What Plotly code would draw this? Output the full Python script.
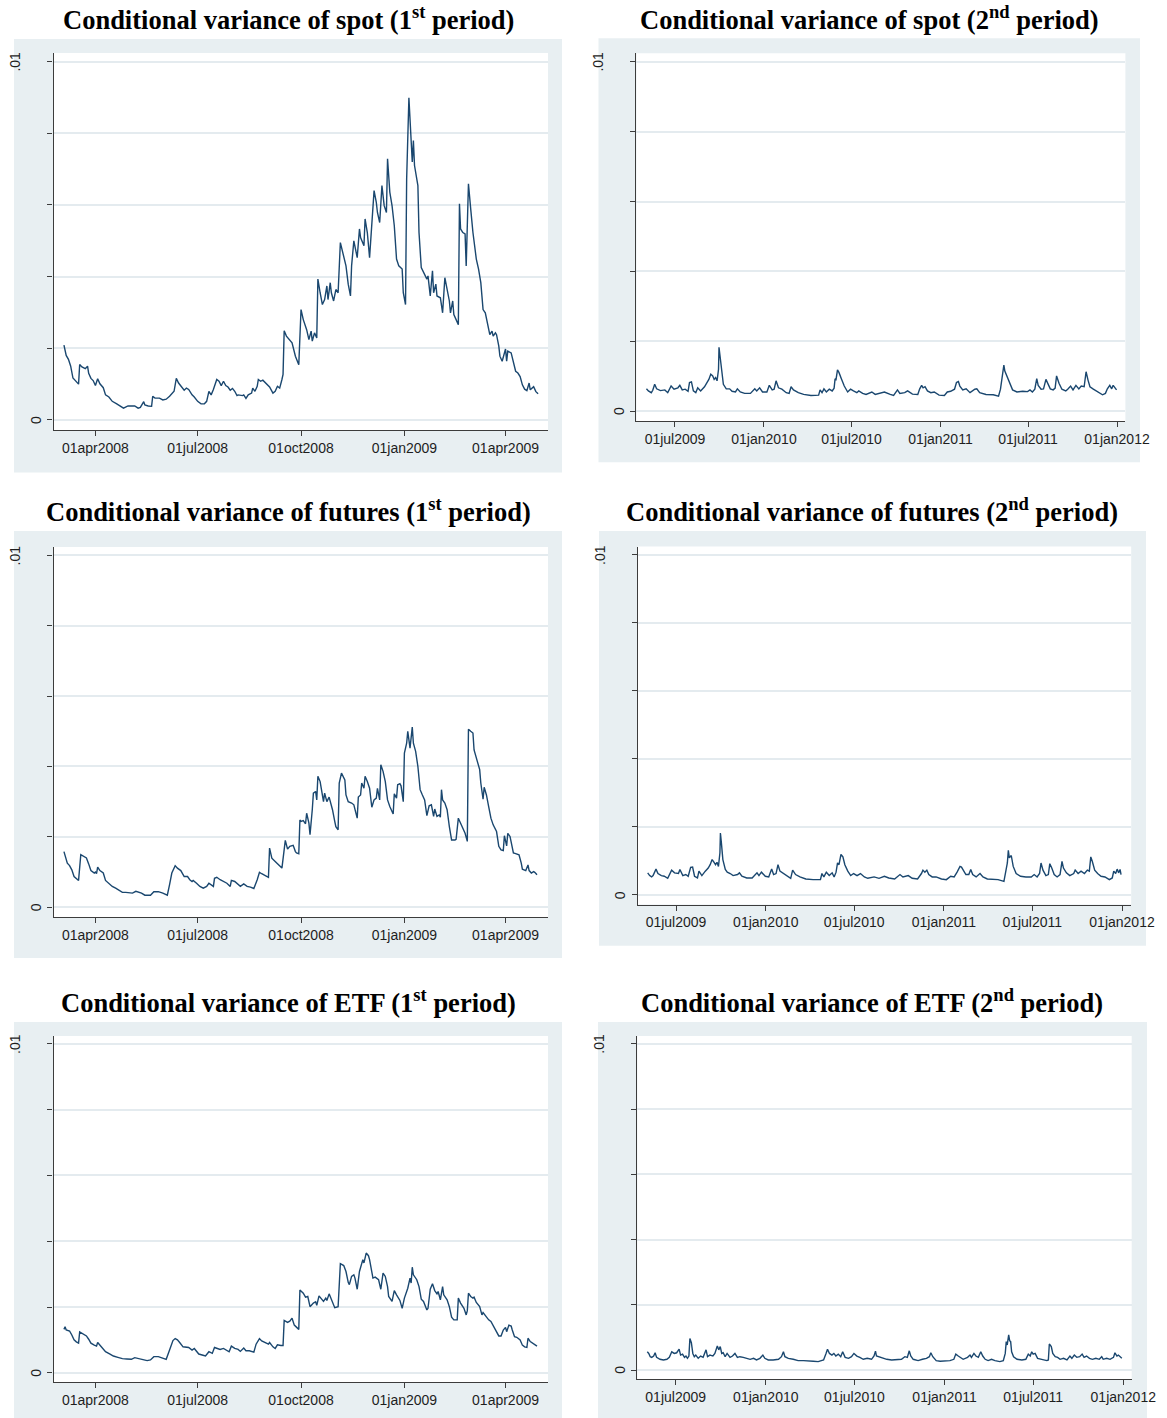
import pandas as pd
import plotly.graph_objects as go

W, H = 1167, 1418

# ---------------- data (conditional variance, in units of 1e-3) ----------------
base1 = "2008-04-01"   # day offsets of the 1st period are relative to this date
base2 = "2009-07-01"   # day offsets of the 2nd period are relative to this date

spot1_day = [-28,-26,-24,-22,-20,-17,-15,-14,-12,-9,
             -7,-6,-4,-2,0,2,4,7,9,12,
             15,19,22,25,29,32,35,38,40,43,
             44,47,50,51,53,57,60,63,66,70,
             72,74,76,79,81,83,86,88,91,94,
             97,99,101,103,105,108,110,112,114,116,
             118,120,122,124,126,127,131,132,134,136,
             139,140,142,144,145,147,149,152,155,158,
             160,162,164,166,167,168,
             170,175,178,181,183,185,188,190,192,193,
             195,197,198,200,202,204,206,207,209,210,
             212,214,216,218,220,223,225,227,228,230,
             233,235,236,239,240,242,244,246,248,250,
             251,253,255,257,259,260,262,264,266,268,
             270,273,274,276,277,279,281,282,283,284,
             287,288,290,293,295,296,298,300,301,303,
             304,307,309,311,313,315,316,318,319,321,
             323,324,325,327,329,330,332,334,336,339,
             341,343,345,347,349,351,353,354,356,357,
             359,360,362,365,366,367,370,372,374,376,
             378,380,382,384,386,387,390,392,394]
spot1_var = [2.09,1.80,1.69,1.50,1.17,1.05,1.00,1.55,1.48,1.43,
             1.50,1.30,1.16,1.10,0.96,1.15,1.01,0.90,0.70,0.64,
             0.52,0.45,0.38,0.33,0.39,0.38,0.39,0.33,0.35,0.51,
             0.42,0.39,0.38,0.66,0.61,0.61,0.56,0.58,0.66,0.80,
             1.16,1.03,0.96,0.83,0.89,0.85,0.70,0.64,0.52,0.45,
             0.45,0.52,0.80,0.70,0.85,1.13,1.08,0.96,1.08,0.96,
             0.92,0.83,0.88,0.80,0.68,0.70,0.68,0.70,0.60,0.70,
             0.75,0.89,0.80,0.94,1.13,1.08,1.11,1.01,0.92,0.75,
             0.80,0.94,0.89,1.13,1.27,2.49,
             2.34,2.15,1.78,1.54,3.08,2.80,2.52,2.24,2.48,2.20,
             2.43,2.29,3.93,3.55,3.22,3.36,3.74,3.36,3.83,3.55,
             3.32,3.64,3.55,4.95,4.67,4.30,3.79,3.46,4.30,5.00,
             4.53,5.33,5.09,4.86,5.61,5.23,4.53,5.37,6.40,6.07,
             5.79,5.51,6.54,5.98,5.79,7.29,6.36,5.98,5.42,4.49,
             4.30,4.21,3.55,3.22,6.73,8.99,7.94,7.20,7.80,7.10,
             6.54,5.23,4.25,4.07,3.93,4.02,3.46,4.16,3.55,3.79,
             3.46,3.41,2.99,3.97,3.64,3.32,2.99,3.32,2.94,2.80,
             2.66,6.03,5.33,5.23,5.19,4.30,6.59,5.89,5.23,4.49,
             4.21,3.83,3.08,2.99,2.71,2.38,2.48,2.34,2.43,2.38,
             2.06,1.78,1.64,1.98,1.64,1.92,1.87,1.59,1.36,1.31,
             1.21,0.98,0.86,0.82,1.03,0.84,0.93,0.79,0.73]

fut1_day = [-28,-27,-25,-23,-21,-19,-16,-15,-13,-11,
            -8,-6,-4,-1,0,1,2,4,7,9,
            12,15,18,21,24,27,30,33,36,39,
            41,44,49,52,56,60,64,66,68,71,
            73,76,79,82,84,86,87,90,93,96,
            99,101,103,105,106,108,111,114,117,120,
            121,124,127,129,132,135,138,141,144,146,
            148,151,154,155,157,160,163,166,169,171,
            173,176,178,179,181,182,183,185,187,188,
            190,191,193,194,196,197,198,200,201,203,
            204,206,208,211,213,214,216,217,219,222,
            223,225,228,230,233,234,236,237,239,240,
            242,244,246,248,250,251,253,254,256,258,
            260,262,265,266,268,269,271,272,274,275,
            277,278,280,282,283,285,287,289,291,293,
            295,297,299,301,302,304,306,307,308,309,
            311,313,315,317,320,321,323,325,327,329,
            331,332,334,336,337,340,342,343,345,346,
            348,350,352,354,357,359,361,363,364,366,
            367,369,370,372,374,377,379,380,383,385,
            386,388,390,391,393]
fut1_var = [1.58,1.49,1.25,1.18,1.06,0.87,0.80,0.76,1.49,1.46,
            1.40,1.23,1.04,0.97,1.00,0.95,1.14,1.04,0.97,0.76,
            0.66,0.59,0.54,0.47,0.42,0.42,0.40,0.40,0.45,0.42,
            0.40,0.34,0.34,0.44,0.44,0.40,0.34,0.64,0.97,1.18,
            1.11,1.04,0.87,0.87,0.78,0.73,0.76,0.68,0.59,0.54,
            0.59,0.68,0.64,0.59,0.82,0.85,0.78,0.73,0.68,0.59,
            0.76,0.73,0.66,0.59,0.66,0.59,0.57,0.53,0.78,0.99,
            0.95,0.89,0.85,1.68,1.39,1.30,1.20,1.11,1.90,1.65,
            1.73,1.76,1.58,1.54,1.52,2.48,2.44,2.46,2.37,2.67,
            2.39,2.06,2.77,3.24,3.29,3.05,3.72,3.57,3.38,3.00,
            3.24,3.00,3.13,2.77,2.44,2.29,2.20,3.53,3.81,3.62,
            3.19,3.00,2.96,2.91,2.53,3.13,3.19,3.53,3.38,3.72,
            3.57,3.38,2.84,3.05,3.10,3.38,3.05,4.05,3.86,3.57,
            3.05,2.86,2.65,3.22,3.10,3.48,3.51,3.45,3.00,4.38,
            4.66,5.00,4.52,5.12,4.66,4.43,4.00,3.34,3.19,3.05,
            2.60,2.88,2.91,2.58,2.79,2.58,2.62,2.56,3.34,3.05,
            2.96,2.77,2.29,1.91,1.91,1.93,2.53,2.39,2.25,2.10,
            1.87,5.06,5.00,4.95,4.47,4.14,3.91,3.53,3.07,3.41,
            3.19,2.86,2.53,2.34,2.15,1.73,1.63,1.61,2.03,1.74,
            2.10,2.01,1.82,1.54,1.52,1.49,1.25,1.08,1.04,1.20,
            1.04,0.97,1.01,0.99,0.92]

etf1_day = [-28,-27,-26,-23,-21,-19,-17,-15,-14,-11,
            -8,-6,-4,-1,1,2,4,6,9,13,
            16,20,24,28,32,35,39,43,46,49,
            52,56,59,63,66,69,71,73,75,78,
            83,86,88,90,92,95,98,101,104,106,
            108,111,114,117,119,121,124,127,129,132,
            134,137,141,143,146,148,151,154,155,158,
            160,162,165,167,168,171,173,175,177,179,
            181,182,185,187,189,191,194,196,197,199,
            201,203,205,206,208,210,212,213,216,218,
            221,223,225,226,228,230,231,233,235,236,
            238,239,241,243,244,247,249,252,254,256,
            258,260,261,264,266,268,271,273,275,278,
            280,281,282,283,286,288,290,292,295,296,
            298,300,302,304,305,307,309,310,313,315,
            317,319,322,323,325,328,330,331,332,334,
            336,337,339,342,344,345,348,350,352,354,
            357,359,361,363,365,366,368,370,371,373,
            375,378,380,382,384,385,387,389,391,393]
etf1_var = [1.32,1.40,1.30,1.27,1.15,1.00,0.94,0.90,1.24,1.18,
            1.12,1.02,0.90,0.84,0.81,0.92,0.84,0.77,0.64,0.57,
            0.51,0.47,0.43,0.42,0.41,0.46,0.42,0.39,0.37,0.39,
            0.49,0.49,0.46,0.41,0.69,0.98,1.04,1.00,0.92,0.79,
            0.77,0.69,0.74,0.64,0.57,0.54,0.51,0.64,0.59,0.77,
            0.74,0.71,0.74,0.67,0.64,0.81,0.74,0.71,0.65,0.75,
            0.67,0.67,0.63,0.87,1.04,0.97,0.92,0.87,0.92,0.79,
            0.74,0.85,0.83,0.83,1.59,1.53,1.57,1.66,1.45,1.38,
            1.32,2.52,2.42,2.30,2.32,2.01,2.12,2.16,2.05,2.34,
            2.27,2.17,2.27,2.20,2.40,2.22,2.10,1.98,2.01,3.32,
            3.26,3.08,2.75,2.68,2.93,2.98,2.88,2.54,3.08,3.18,
            3.44,3.34,3.64,3.56,3.44,2.88,2.91,2.83,2.54,3.03,
            2.93,2.62,2.32,2.17,2.50,2.37,2.20,1.96,2.27,2.57,
            2.88,2.73,3.21,2.98,2.83,2.62,2.24,2.17,1.91,1.96,
            2.54,2.71,2.50,2.40,2.47,2.22,2.62,2.37,2.22,2.01,
            1.69,1.61,1.61,2.27,2.12,1.96,1.76,1.89,2.42,2.32,
            2.27,2.30,2.14,2.01,1.76,1.83,1.69,1.61,1.56,1.42,
            1.25,1.12,1.12,1.30,1.38,1.25,1.45,1.42,1.30,1.10,
            1.08,1.00,0.84,0.79,0.77,1.05,0.95,0.90,0.87,0.81]

spot2_day = [-59,-55,-49,-46,-42,-38,-30,-21,-15,-8,
             -2,6,10,15,21,27,30,34,38,43,
             47,53,61,67,70,74,78,81,84,87,
             90,91,94,97,100,106,113,118,125,129,
             135,144,156,165,169,175,181,190,195,201,
             205,209,214,221,230,236,240,245,255,266,
             281,297,300,304,308,313,319,325,329,331,
             333,336,339,344,350,357,363,369,376,380,
             388,395,407,414,426,433,445,452,460,465,
             475,481,491,502,506,510,513,517,522,529,
             536,546,557,563,570,578,582,586,589,595,
             602,610,620,624,630,643,658,669,673,677,
             680,682,686,692,698,707,719,729,734,739,
             744,748,751,757,762,767,771,776,782,786,
             789,794,800,808,812,818,823,829,835,840,
             846,850,854,858,865,875,884,890,894,899,
             903,906,910,913]
spot2_var = [0.64,0.58,0.53,0.60,0.77,0.64,0.59,0.61,0.53,0.72,
             0.63,0.67,0.74,0.61,0.63,0.57,0.82,0.84,0.58,0.53,
             0.67,0.58,0.70,0.82,0.91,1.06,1.01,0.91,0.96,0.87,
             1.20,1.83,1.49,1.01,0.77,0.64,0.64,0.57,0.55,0.64,
             0.55,0.51,0.51,0.64,0.58,0.67,0.55,0.55,0.74,0.61,
             0.63,0.87,0.67,0.63,0.53,0.51,0.70,0.61,0.53,0.48,
             0.45,0.46,0.61,0.53,0.64,0.55,0.63,0.58,0.66,0.93,
             0.91,1.18,1.11,0.93,0.72,0.55,0.63,0.58,0.53,0.58,
             0.51,0.48,0.55,0.48,0.53,0.55,0.48,0.45,0.61,0.51,
             0.53,0.58,0.49,0.48,0.64,0.74,0.67,0.70,0.58,0.53,
             0.55,0.46,0.45,0.55,0.57,0.63,0.82,0.85,0.72,0.61,
             0.64,0.53,0.63,0.64,0.53,0.48,0.47,0.43,0.63,0.96,
             1.32,1.15,1.01,0.77,0.61,0.55,0.57,0.56,0.61,0.55,
             0.63,0.93,0.74,0.63,0.64,0.91,0.80,0.64,0.61,0.66,
             1.01,0.80,0.63,0.58,0.63,0.72,0.61,0.74,0.64,0.72,
             0.70,1.13,0.89,0.70,0.63,0.55,0.47,0.51,0.64,0.74,
             0.64,0.74,0.66,0.61]

fut2_day = [-58,-54,-50,-47,-41,-37,-30,-24,-17,-9,
            -3,5,8,14,20,25,30,34,38,44,
            47,53,60,66,70,74,77,81,84,87,
            90,91,93,96,101,105,111,117,126,130,
            135,145,156,166,170,175,183,190,196,200,
            205,209,213,220,230,235,239,245,254,266,
            281,296,299,303,308,314,320,324,328,331,
            334,338,342,346,352,358,364,371,378,386,
            393,406,416,427,436,448,459,465,476,484,
            495,503,506,510,514,518,525,533,544,554,
            563,570,576,582,585,589,594,600,604,608,
            615,623,629,638,649,660,672,676,679,681,
            683,687,691,697,706,717,728,734,740,745,
            748,752,758,763,766,770,775,781,787,791,
            794,800,807,815,818,824,830,837,843,847,
            850,853,858,864,871,879,888,894,897,901,
            904,907,910,912]
fut2_var = [0.65,0.57,0.53,0.57,0.76,0.63,0.57,0.55,0.49,0.73,
            0.65,0.63,0.75,0.57,0.60,0.55,0.81,0.82,0.55,0.50,
            0.70,0.57,0.70,0.79,0.89,1.04,0.98,0.89,0.96,0.84,
            1.24,1.82,1.53,1.04,0.75,0.67,0.63,0.57,0.60,0.65,
            0.55,0.50,0.50,0.65,0.57,0.67,0.55,0.53,0.76,0.60,
            0.63,0.89,0.70,0.63,0.53,0.49,0.73,0.60,0.53,0.47,
            0.45,0.45,0.63,0.53,0.67,0.57,0.65,0.53,0.67,0.94,
            0.89,1.19,1.12,0.89,0.70,0.57,0.63,0.57,0.63,0.53,
            0.49,0.53,0.49,0.55,0.50,0.47,0.60,0.53,0.57,0.49,
            0.47,0.63,0.73,0.67,0.73,0.60,0.53,0.53,0.47,0.45,
            0.55,0.53,0.67,0.84,0.82,0.73,0.60,0.60,0.75,0.60,
            0.53,0.63,0.53,0.47,0.47,0.45,0.40,0.76,0.94,1.31,
            1.09,1.16,0.84,0.63,0.55,0.53,0.53,0.60,0.53,0.63,
            0.94,0.73,0.57,0.60,0.92,0.79,0.60,0.53,0.60,0.99,
            0.79,0.65,0.57,0.63,0.73,0.63,0.70,0.63,0.73,0.70,
            1.12,0.99,0.73,0.63,0.55,0.53,0.45,0.50,0.70,0.63,
            0.76,0.65,0.75,0.60]

etf2_day = [-58,-55,-52,-49,-45,-42,-39,-32,-25,-18,
            -13,-8,-3,2,7,10,14,18,21,24,
            27,29,32,35,38,41,46,51,56,62,
            65,70,76,80,85,88,91,94,97,101,
            105,111,116,121,126,131,138,145,152,159,
            165,172,178,182,189,199,210,216,220,223,
            230,240,250,261,271,281,291,302,307,310,
            314,319,323,327,332,337,341,346,353,359,
            364,370,376,383,391,400,405,408,410,417,
            424,431,441,451,461,468,473,477,480,485,
            495,504,512,518,521,525,532,540,550,560,
            568,572,577,582,587,596,601,604,609,613,
            618,623,627,632,638,645,652,662,669,673,
            675,677,680,682,684,686,690,697,707,715,
            720,724,727,730,734,739,747,758,761,763,
            767,770,775,780,785,792,799,805,809,814,
            819,825,830,834,839,845,851,858,865,870,
            873,880,887,894,897,901,904,908,911]
etf2_var = [0.56,0.51,0.41,0.39,0.43,0.53,0.39,0.33,0.31,0.33,
            0.39,0.56,0.51,0.53,0.64,0.46,0.49,0.39,0.43,0.36,
            0.43,0.97,0.84,0.51,0.41,0.46,0.36,0.43,0.39,0.62,
            0.41,0.46,0.43,0.51,0.74,0.62,0.72,0.51,0.53,0.41,
            0.51,0.39,0.43,0.51,0.39,0.41,0.39,0.36,0.33,0.36,
            0.31,0.36,0.46,0.36,0.31,0.31,0.33,0.41,0.56,0.41,
            0.36,0.33,0.29,0.29,0.27,0.27,0.26,0.31,0.51,0.64,
            0.51,0.46,0.51,0.43,0.49,0.41,0.56,0.39,0.36,0.41,
            0.51,0.43,0.39,0.33,0.36,0.33,0.43,0.58,0.43,0.39,
            0.36,0.33,0.31,0.31,0.33,0.41,0.39,0.59,0.43,0.33,
            0.29,0.33,0.36,0.41,0.53,0.41,0.29,0.27,0.27,0.29,
            0.33,0.49,0.43,0.39,0.33,0.39,0.46,0.39,0.51,0.43,
            0.39,0.56,0.43,0.33,0.29,0.33,0.29,0.26,0.29,0.51,
            0.87,0.77,1.08,0.90,0.87,0.56,0.41,0.33,0.31,0.33,
            0.49,0.43,0.56,0.49,0.51,0.36,0.33,0.29,0.31,0.80,
            0.72,0.51,0.41,0.39,0.33,0.36,0.31,0.43,0.36,0.46,
            0.39,0.41,0.49,0.39,0.43,0.36,0.33,0.36,0.33,0.41,
            0.33,0.36,0.33,0.39,0.53,0.43,0.46,0.39,0.36]

ticks1 = ["2008-04-01", "2008-07-01", "2008-10-01", "2009-01-01", "2009-04-01"]
ticks1_text = ["01apr2008", "01jul2008", "01oct2008", "01jan2009", "01apr2009"]
ticks2 = ["2009-07-01", "2010-01-01", "2010-07-01", "2011-01-01", "2011-07-01", "2012-01-01"]
ticks2_text = ["01jul2009", "01jan2010", "01jul2010", "01jan2011", "01jul2011", "01jan2012"]
yticks = [0, 0.002, 0.004, 0.006, 0.008, 0.01]
ylabels = {0: "0", 0.01: ".01"}

titles = [
    "Conditional variance of spot (1<sup>st</sup> period)",
    "Conditional variance of spot (2<sup>nd</sup> period)",
    "Conditional variance of futures (1<sup>st</sup> period)",
    "Conditional variance of futures (2<sup>nd</sup> period)",
    "Conditional variance of ETF (1<sup>st</sup> period)",
    "Conditional variance of ETF (2<sup>nd</sup> period)",
]
series = [
    (base1, spot1_day, spot1_var, ticks1, ticks1_text),
    (base2, spot2_day, spot2_var, ticks2, ticks2_text),
    (base1, fut1_day, fut1_var, ticks1, ticks1_text),
    (base2, fut2_day, fut2_var, ticks2, ticks2_text),
    (base1, etf1_day, etf1_var, ticks1, ticks1_text),
    (base2, etf2_day, etf2_var, ticks2, ticks2_text),
]

# ---------------- layout geometry (pixels) ----------------
# plot box: (left, right, top, bottom); background box; title centre; x range in days from base
geom = [
    dict(plot=(53.5, 548, 53, 430), bg=(14, 562, 39, 472.5), title=(288, 18), xr=(-37.3, 402.8)),
    dict(plot=(636.4, 1125.4, 53.3, 421), bg=(598.5, 1140, 38.3, 462.3), title=(869, 18), xr=(-79.8, 931.3)),
    dict(plot=(53.5, 548, 547, 917), bg=(14, 562, 531, 958), title=(288, 510), xr=(-37.3, 402.8)),
    dict(plot=(637.8, 1131.2, 546.5, 904.5), bg=(599, 1146, 531, 945.7), title=(872, 510), xr=(-78.3, 932.8)),
    dict(plot=(53.5, 548, 1036, 1382), bg=(14, 562, 1022, 1418), title=(288, 1001), xr=(-37.3, 402.8)),
    dict(plot=(637.3, 1131.7, 1036, 1379.2), bg=(598, 1147, 1022, 1418), title=(872, 1001), xr=(-78.4, 931.2)),
]

NAVY = "#1a476f"
BG = "#e8eff2"
GRID = "#e4ebef"
AXIS = "#3c3c3c"
YR = [-0.00028, 0.01024]


def px_x(x):
    return x / W


def px_y(y):
    return 1 - y / H


fig = go.Figure()
shapes, annotations = [], []
layout = {}

for i, ((base, days, vals, tv, tt), g, title) in enumerate(zip(series, geom, titles), start=1):
    b = pd.Timestamp(base)
    x = b + pd.to_timedelta(days, unit="D")
    y = [v / 1000 for v in vals]
    xs = "x" if i == 1 else f"x{i}"
    ys = "y" if i == 1 else f"y{i}"
    fig.add_trace(go.Scatter(x=x, y=y, mode="lines", xaxis=xs, yaxis=ys,
                             line=dict(color=NAVY, width=1.4), showlegend=False,
                             hoverinfo="skip"))
    l, r, t, btm = g["plot"]
    bl, br, bt, bb = g["bg"]
    shapes.append(dict(type="rect", xref="paper", yref="paper", layer="below",
                       x0=px_x(bl), x1=px_x(br), y0=px_y(bb), y1=px_y(bt),
                       fillcolor=BG, line=dict(width=0)))
    shapes.append(dict(type="rect", xref="paper", yref="paper", layer="below",
                       x0=px_x(l), x1=px_x(r), y0=px_y(btm), y1=px_y(t),
                       fillcolor="white", line=dict(width=0)))
    xr0 = (b + pd.Timedelta(days=g["xr"][0])).strftime("%Y-%m-%d %H:%M:%S")
    xr1 = (b + pd.Timedelta(days=g["xr"][1])).strftime("%Y-%m-%d %H:%M:%S")
    xa = "xaxis" if i == 1 else f"xaxis{i}"
    ya = "yaxis" if i == 1 else f"yaxis{i}"
    layout[xa] = dict(domain=[px_x(l), px_x(r)], anchor=ys, type="date",
                      range=[xr0, xr1], tickmode="array", tickvals=tv, ticktext=tt,
                      showgrid=False, zeroline=False, showline=True, linecolor=AXIS,
                      linewidth=1.3, ticks="outside", ticklen=5, tickwidth=1.2,
                      tickcolor=AXIS, automargin=False,
                      tickfont=dict(family="Liberation Sans, Arial", size=14, color="#1e1e1e"))
    layout[ya] = dict(domain=[px_y(btm), px_y(t)], anchor=xs, range=YR,
                      tickmode="array", tickvals=yticks, showticklabels=False,
                      showgrid=True, gridcolor=GRID, gridwidth=1.5, zeroline=False,
                      showline=True, linecolor=AXIS, linewidth=1.3, ticks="outside",
                      ticklen=5, tickwidth=1.2, tickcolor=AXIS, automargin=False)
    # y tick labels (vertical, Stata style)
    for val, txt in ylabels.items():
        off = 38.5 if txt == ".01" else 17.5
        annotations.append(dict(x=px_x(l - off), xref="paper", y=val, yref=ys,
                                text=txt, textangle=-90, showarrow=False,
                                xanchor="center", yanchor="middle",
                                font=dict(family="Liberation Sans, Arial", size=14, color="#1e1e1e")))
    tx, ty = g["title"]
    annotations.append(dict(x=px_x(tx), y=px_y(ty), xref="paper", yref="paper",
                            text="<b>" + title + "</b>", showarrow=False,
                            xanchor="center", yanchor="middle",
                            font=dict(family="Liberation Serif, Times New Roman, serif",
                                      size=26.5, color="black")))

fig.update_layout(
    template="none",
    width=W, height=H,
    margin=dict(l=0, r=0, t=0, b=0, pad=0),
    paper_bgcolor="white", plot_bgcolor="white",
    showlegend=False,
    shapes=shapes, annotations=annotations,
    **layout,
)

fig.write_html("out.html")
